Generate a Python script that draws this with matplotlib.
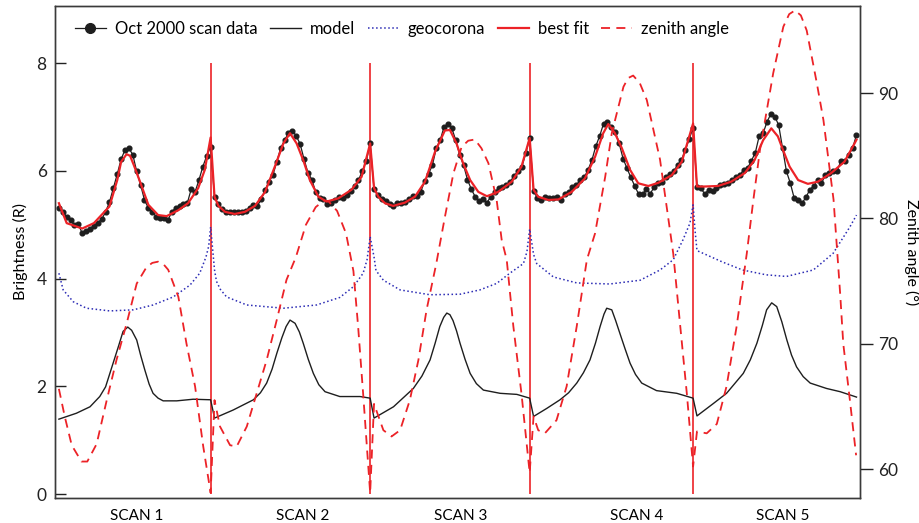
import numpy as np
import matplotlib
matplotlib.use('Agg')
import matplotlib.pyplot as plt
from matplotlib.lines import Line2D

plt.rcParams['font.family'] = ['Lato', 'DejaVu Sans']

# brightness (R) of each scan point, one list per scan
scan1 = [5.31, 5.24, 5.15, 5.09, 5.00, 5.01, 4.84, 4.89, 4.93, 4.98, 5.04, 5.10, 5.24, 5.42, 5.68, 5.94,
         6.22, 6.39, 6.42, 6.30, 5.99, 5.74, 5.46, 5.31, 5.24, 5.15, 5.12, 5.12, 5.08, 5.24, 5.31, 5.35,
         5.39, 5.40, 5.66, 5.61, 5.83, 6.08, 6.28, 6.45]
scan2 = [5.51, 5.38, 5.29, 5.24, 5.23, 5.23, 5.23, 5.23, 5.25, 5.32, 5.36, 5.35, 5.47, 5.65, 5.80, 5.92,
         6.17, 6.42, 6.57, 6.70, 6.75, 6.65, 6.50, 6.22, 5.97, 5.84, 5.61, 5.49, 5.47, 5.38, 5.41, 5.46,
         5.52, 5.49, 5.55, 5.63, 5.72, 5.83, 6.00, 6.18, 6.51]
scan3 = [5.66, 5.55, 5.47, 5.45, 5.39, 5.35, 5.40, 5.40, 5.43, 5.47, 5.53, 5.53, 5.61, 5.81, 5.94, 6.11,
         6.42, 6.57, 6.82, 6.87, 6.79, 6.57, 6.30, 6.11, 5.84, 5.66, 5.52, 5.44, 5.47, 5.41, 5.52, 5.60,
         5.68, 5.70, 5.74, 5.80, 5.91, 5.99, 6.08, 6.33, 6.61]
scan4 = [5.63, 5.49, 5.46, 5.51, 5.49, 5.49, 5.51, 5.46, 5.58, 5.61, 5.70, 5.74, 5.83, 5.88, 6.02, 6.20,
         6.46, 6.65, 6.88, 6.91, 6.82, 6.73, 6.51, 6.23, 6.05, 5.88, 5.72, 5.57, 5.57, 5.66, 5.58, 5.70,
         5.78, 5.80, 5.89, 5.94, 5.99, 6.11, 6.20, 6.39, 6.59, 6.80]
scan5 = [5.71, 5.68, 5.57, 5.65, 5.63, 5.68, 5.74, 5.76, 5.78, 5.83, 5.88, 5.92, 6.02, 6.05, 6.19, 6.34,
         6.65, 6.70, 6.91, 7.06, 7.01, 6.85, 6.42, 5.99, 5.77, 5.49, 5.46, 5.40, 5.51, 5.65, 5.72, 5.83,
         5.77, 5.92, 5.97, 5.99, 5.99, 6.19, 6.19, 6.30, 6.42, 6.67]

# best fit, sampled at point index fit_x
fit_x = [0, 2, 6, 9, 13, 15, 16, 17.4, 18.3, 19.3, 21, 23, 25.5, 27.7, 30.7, 33.2, 35.8, 37.5, 39,
         40, 41, 42.7, 45.2, 47.8, 50.4, 53, 55.5, 57.7, 59.4, 61.1, 62.8, 64.5, 66.7, 68.8, 71.8, 75.2, 77.8, 80,
         81, 82.1, 83.8, 85.9, 88.9, 91.5, 94.1, 96.7, 99.2, 100.5, 102.2, 103.9, 105.7, 107.8, 110, 112.9, 116.4, 118.9, 121,
         122, 123.2, 125.8, 128.4, 131.8, 135.2, 137.8, 139.9, 141.2, 142.9, 144.7, 146.8, 148.9, 151.5, 154.1, 157.5, 160.1, 163,
         164, 166, 169.4, 172.8, 176.3, 178.8, 181, 183.1, 184.8, 186.1, 187.8, 190, 192.5, 195.1, 198.5, 201.9, 204.5, 205]
fit_y = [5.40, 5.03, 4.93, 5.03, 5.34, 5.83, 6.17, 6.31, 6.28, 6.10, 5.77, 5.37, 5.18, 5.16, 5.27, 5.40, 5.68, 6.02, 6.62,
         5.52, 5.35, 5.24, 5.20, 5.24, 5.35, 5.61, 6.08, 6.51, 6.70, 6.51, 6.20, 5.83, 5.52, 5.43, 5.49, 5.65, 5.89, 6.51,
         5.68, 5.52, 5.40, 5.35, 5.41, 5.52, 5.80, 6.36, 6.75, 6.76, 6.51, 6.14, 5.83, 5.61, 5.53, 5.61, 5.80, 6.08, 6.61,
         5.65, 5.52, 5.46, 5.47, 5.61, 5.86, 6.26, 6.70, 6.87, 6.70, 6.42, 6.02, 5.77, 5.72, 5.78, 5.92, 6.17, 6.88,
         5.71, 5.71, 5.72, 5.80, 5.96, 6.20, 6.57, 6.79, 6.64, 6.39, 6.08, 5.83, 5.76, 5.80, 5.96, 6.17, 6.51, 6.58]

# model
model_x = [0, 4.5, 8, 10.5, 12, 13.1, 14.2, 15.3, 16.5, 17.7, 18.7, 20, 21, 22.1, 23.2, 24.2, 25.5, 26.8, 30.3, 34.5, 39,
           40, 44.8, 50, 51.8, 53.4, 54.8, 56, 57.3, 58.4, 59.4, 60.7, 61.8, 62.8, 64.1, 65.4, 66.8, 68.4, 72.2, 77.4, 80,
           81, 86, 91.1, 93.3, 95.4, 96.7, 97.9, 98.9, 99.7, 100.5, 101.3, 102.2, 103.1, 104.4, 105.7, 107.3, 109.1, 113.4, 117.7, 121,
           122, 125.4, 128.8, 131, 133.1, 134.8, 136.5, 137.9, 139.1, 140.1, 140.8, 142.1, 143.1, 144.2, 145.5, 146.8, 148.2, 149.8, 153.6, 158.8, 163,
           164, 168.2, 171.6, 175.9, 177.7, 179.4, 180.8, 181.9, 183.2, 184.5, 185.8, 187.1, 188.3, 189.6, 191.3, 193.1, 197.3, 200.8, 205]
model_y = [1.39, 1.50, 1.62, 1.81, 1.99, 2.24, 2.49, 2.74, 3.02, 3.10, 3.04, 2.86, 2.58, 2.30, 2.04, 1.87, 1.78, 1.73, 1.73, 1.76, 1.75,
           1.41, 1.56, 1.75, 1.88, 2.06, 2.32, 2.61, 2.90, 3.11, 3.23, 3.17, 3.01, 2.80, 2.50, 2.24, 2.03, 1.90, 1.81, 1.81, 1.78,
           1.41, 1.62, 1.96, 2.19, 2.49, 2.80, 3.11, 3.28, 3.36, 3.33, 3.22, 3.03, 2.80, 2.50, 2.24, 2.05, 1.93, 1.87, 1.85, 1.78,
           1.44, 1.59, 1.75, 1.88, 2.06, 2.25, 2.49, 2.80, 3.11, 3.34, 3.45, 3.42, 3.22, 2.98, 2.70, 2.43, 2.22, 2.06, 1.92, 1.87, 1.78,
           1.45, 1.68, 1.87, 2.24, 2.49, 2.80, 3.13, 3.42, 3.55, 3.48, 3.20, 2.86, 2.58, 2.36, 2.18, 2.06, 1.96, 1.90, 1.80]

# geocorona
geo_x = [0, 1.1, 3.7, 7.1, 13.1, 19.1, 24.2, 29.4, 33.7, 36.2, 37.8, 38.5, 39,
         40, 40.5, 41.5, 43.1, 48.3, 57.7, 66.2, 72.2, 75.7, 78.2, 79.2, 80,
         81, 81.5, 83.4, 87.7, 95.4, 103.1, 108.2, 112.5, 115.9, 119.4, 120.3, 121,
         122, 122.8, 127.1, 133.1, 141.6, 149.4, 154.5, 157.9, 160.4, 162.2, 163,
         163.5, 164, 170.5, 175.7, 181.8, 187, 193.9, 199, 203.3, 205]
geo_y = [4.10, 3.79, 3.57, 3.45, 3.40, 3.42, 3.51, 3.66, 3.88, 4.10, 4.40, 4.60, 4.96,
         4.16, 3.95, 3.80, 3.66, 3.51, 3.45, 3.51, 3.65, 3.85, 4.10, 4.35, 4.78,
         4.40, 4.15, 3.97, 3.79, 3.70, 3.71, 3.79, 3.91, 4.10, 4.28, 4.50, 4.92,
         4.45, 4.28, 4.03, 3.92, 3.90, 3.97, 4.16, 4.35, 4.72, 5.03, 5.37,
         4.90, 4.52, 4.31, 4.16, 4.07, 4.04, 4.16, 4.47, 4.96, 5.18]

# zenith angle (deg)
zen_x = [0, 1.5, 3.3, 5.8, 7.3, 9.7, 12.3, 14.8, 17.4, 20, 22.5, 24, 25.5, 27, 28.1, 30.7, 32.8, 35, 37.1, 39,
         40, 41.4, 44, 45.7, 48.3, 50.8, 53.4, 56, 58.5, 60.9, 63.5, 66, 68, 69.2, 71.5, 73.8, 75.7, 76.9, 78.2, 80,
         81, 83.4, 85.5, 87.7, 90.2, 92.4, 94.5, 97, 99.2, 101.4, 103.5, 105.2, 106.9, 108.6, 110.4, 112.5, 113.8, 115.1, 116.8, 118.9, 121,
         122, 123.2, 124.9, 127.9, 130.5, 133.1, 135.7, 137.8, 140.4, 142.1, 145.1, 146.3, 147.6, 149.3, 151.1, 154.5, 157.9, 159.7, 161.4, 163,
         164, 166.5, 169.1, 171.6, 174.2, 176.8, 178.5, 180.2, 183.6, 186.2, 187.7, 189.2, 190.7, 192.2, 194.8, 196.5, 199.1, 200.8, 201.6, 203.3, 204.9]
zen_y = [66.4, 64.2, 61.9, 60.6, 60.6, 62.0, 65.5, 68.7, 71.6, 74.8, 76.1, 76.45, 76.55, 76.3, 75.9, 73.75, 70.0, 66.6, 61.8, 58.1,
         65.5, 63.4, 61.9, 61.8, 63.4, 66.0, 68.7, 71.9, 75.1, 76.9, 79.5, 80.9, 81.4, 81.4, 80.6, 78.8, 75.8, 71.4, 66.0, 58.1,
         65.2, 63.1, 62.6, 63.1, 65.5, 68.7, 72.7, 76.4, 80.1, 83.6, 85.7, 86.2, 86.3, 85.6, 84.4, 81.5, 78.3, 76.7, 71.4, 66.0, 59.7,
         64.2, 63.1, 62.85, 63.9, 66.6, 71.4, 76.7, 78.8, 83.3, 86.8, 90.5, 91.2, 91.4, 90.8, 89.45, 84.7, 77.2, 71.4, 66.0, 60.2,
         63.0, 62.85, 63.6, 66.6, 71.4, 77.2, 81.5, 85.5, 91.6, 95.3, 96.3, 96.6, 96.2, 95.0, 90.8, 87.85, 81.5, 74.0, 70.0, 65.5, 61.1]

scan_edges = [39, 80, 121, 163]
scan_label_pos = [20.1, 62.7, 103.3, 148.6, 186.1]
scan_labels = ['SCAN 1', 'SCAN 2', 'SCAN 3', 'SCAN 4', 'SCAN 5']

RED = '#ec2227'
BLUE = '#2b2bb4'
DARK = '#1e1e1e'

fig = plt.figure(figsize=(9.2, 5.23), dpi=100)
ax = fig.add_axes([55 / 920, 25 / 523, 805 / 920, 492 / 523])
ax2 = ax.twinx()

data = scan1 + scan2 + scan3 + scan4 + scan5
x = np.arange(len(data))

ax.vlines(scan_edges, 0, 8, color=RED, lw=1.2, zorder=1)
ax.plot(geo_x, geo_y, color=BLUE, ls=':', lw=1.1)
ax.plot(model_x, model_y, color=DARK, lw=1.0)
ax.plot(x, data, color=DARK, lw=0.9, marker='o', ms=3.4)
ax.plot(fit_x, fit_y, color=RED, lw=1.6)
ax2.plot(zen_x, zen_y, color=RED, lw=1.3, dashes=(5, 3.5))

ax.set_xlim(-1.0, 205.9)
ax.set_ylim(-0.074, 9.062)
ax2.set_ylim(57.69, 96.95)

ax.set_yticks([0, 2, 4, 6, 8])
ax.tick_params(axis='y', direction='in', length=8, width=1, pad=6, labelsize=12.5, colors='#222222')
ax.set_xticks(scan_label_pos)
ax.set_xticklabels(scan_labels)
ax.tick_params(axis='x', length=0, pad=8, labelsize=11)
ax2.set_yticks([60, 70, 80, 90])
ax2.tick_params(axis='y', direction='out', length=9, width=1, pad=4, labelsize=12.5, colors='#222222')

for a in (ax, ax2):
    for s in a.spines.values():
        s.set_color('#3a3a3a')
        s.set_linewidth(1.0)

ax.set_ylabel('Brightness (R)', fontsize=11.5, labelpad=6)
ax2.set_ylabel('Zenith angle (°)', fontsize=11.5, rotation=270, labelpad=15)

handles = [
    Line2D([], [], color=DARK, lw=0.9, marker='o', ms=7),
    Line2D([], [], color=DARK, lw=1.0),
    Line2D([], [], color=BLUE, ls=':', lw=1.1),
    Line2D([], [], color=RED, lw=1.6),
    Line2D([], [], color=RED, lw=1.3, dashes=(5, 3.5)),
]
labels = ['Oct 2000 scan data', 'model', 'geocorona', 'best fit', 'zenith angle']
ax2.legend(handles, labels, loc='upper left', bbox_to_anchor=(0.006, 1.0), ncol=5, frameon=False,
           fontsize=12, handlelength=1.85, handletextpad=0.55, columnspacing=0.75, borderaxespad=0.5)

fig.savefig('out.png', dpi=100)
